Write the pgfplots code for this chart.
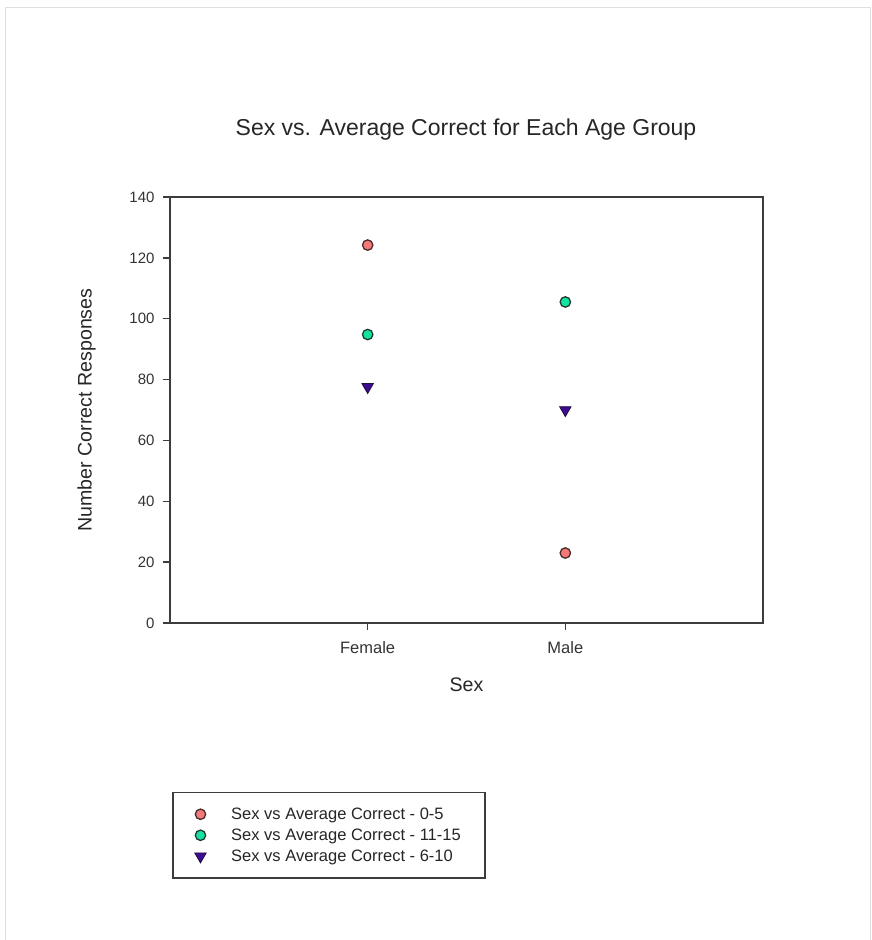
\documentclass[border=0pt]{standalone}
\usepackage{fontspec}
\setmainfont{Liberation Sans}
\usepackage{pgfplots}
\pgfplotsset{compat=1.18}

\definecolor{axisgray}{HTML}{3C3C3C}
\definecolor{redfill}{HTML}{F27A7A}
\definecolor{rededge}{HTML}{4A2A2A}
\definecolor{greenfill}{HTML}{14E2A2}
\definecolor{greenedge}{HTML}{1E3A2E}
\definecolor{trifill}{HTML}{3C0C92}
\definecolor{triedge}{HTML}{22103E}

\begin{document}
\begin{tikzpicture}
% page frame (pixel coords, y up)
\useasboundingbox (0pt,0pt) rectangle (872pt,940pt);
\draw[gray!25, line width=1pt] (5pt,0pt) -- (5pt,932pt) -- (870pt,932pt) -- (870pt,0pt);

\node[font=\fontsize{23}{27}\selectfont, text=black!85] at (466pt,810pt) {Sex vs. Average Correct for Each Age Group};

\begin{axis}[
  at={(170pt,317pt)}, anchor=south west,
  scale only axis, width=593pt, height=426pt,
  xmin=0, xmax=3, ymin=0, ymax=140,
  xtick={1,2}, xticklabels={Female,Male},
  ytick={0,20,...,140},
  tick pos=left, tick align=outside,
  major tick length=7pt,
  axis line style={axisgray, line width=1.6pt},
  every tick/.style={axisgray, line width=1.3pt},
  /pgf/number format/assume math mode=true,
  ticklabel style={text=black!80},
  xticklabel style={font=\fontsize{16.5}{19}\selectfont, yshift=-8pt},
  yticklabel style={font=\fontsize{15}{18}\selectfont, xshift=-5pt},
  xlabel={Sex}, ylabel={Number Correct Responses},
  label style={font=\fontsize{19.6}{23}\selectfont, text=black!85},
  xlabel style={yshift=-17pt},
  ylabel style={yshift=27pt},
  legend style={
    at={(axis description cs:0.0034,-0.3967)}, anchor=north west,
    draw=axisgray, line width=1.5pt,
    font=\fontsize{16.5}{19}\selectfont,
    inner xsep=22pt, inner ysep=13pt,
    row sep=4pt,
    /tikz/every odd column/.append style={column sep=23pt},
    cells={anchor=west, text=black!85},
  },
  legend image code/.code={\draw[#1] plot coordinates {(0pt,0pt)};},
]
\addplot[only marks, mark=*, mark size=5.2pt, fill=redfill, draw=rededge, line width=1.3pt]
  coordinates {(1,124.2) (2,23.0)};
\addlegendentry{Sex vs Average Correct - 0-5}
\addplot[only marks, mark=*, mark size=5.2pt, fill=greenfill, draw=greenedge, line width=1.3pt]
  coordinates {(1,94.8) (2,105.5)};
\addlegendentry{Sex vs Average Correct - 11-15}
\addplot[only marks, mark=triangle*, mark size=6.6pt, mark options={rotate=180}, fill=trifill, draw=triedge, line width=0.8pt]
  coordinates {(1,77.6) (2,70.0)};
\addlegendentry{Sex vs Average Correct - 6-10}
\end{axis}
\end{tikzpicture}
\end{document}
